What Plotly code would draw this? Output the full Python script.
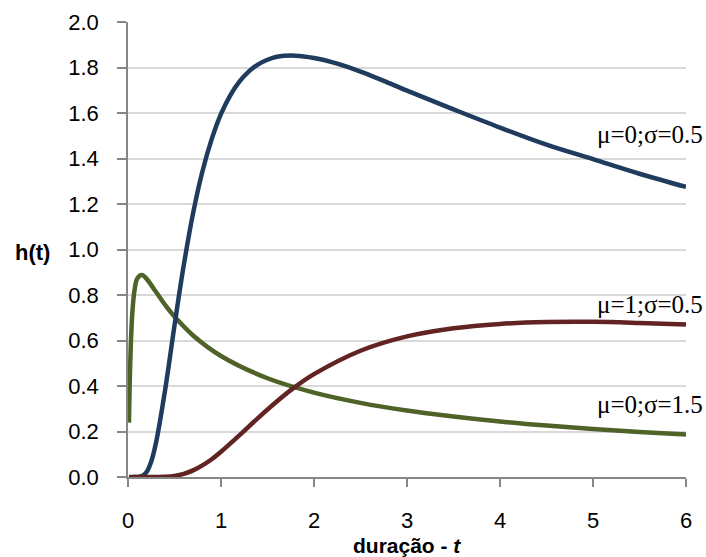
import plotly.graph_objects as go

# Series 1: mu=0; sigma=0.5
t1 = [0.05, 0.1, 0.15, 0.2, 0.25, 0.3, 0.4, 0.5, 0.6, 0.7, 0.8, 0.9, 1.0, 1.1, 1.2, 1.3, 1.4, 1.5, 1.6, 1.8, 2.0, 2.25, 2.5, 2.75, 3.0, 3.5, 4.0, 4.5, 5.0, 5.5, 6.0]
h1 = [0.0, 0.0002, 0.004, 0.022, 0.068, 0.148, 0.385, 0.666, 0.932, 1.160, 1.343, 1.485, 1.596, 1.678, 1.739, 1.783, 1.814, 1.834, 1.847, 1.852, 1.842, 1.817, 1.782, 1.741, 1.698, 1.616, 1.536, 1.461, 1.397, 1.333, 1.275]

# Series 2: mu=1; sigma=0.5
t2 = [0.01, 0.1, 0.2, 0.3, 0.4, 0.5, 0.6, 0.7, 0.8, 0.9, 1.0, 1.2, 1.4, 1.6, 1.8, 2.0, 2.5, 3.0, 3.5, 4.0, 4.5, 5.0, 5.5, 6.0]
h2 = [0.0, 0.0, 0.0, 0.0002, 0.0012, 0.005, 0.014, 0.029, 0.051, 0.078, 0.111, 0.184, 0.260, 0.332, 0.397, 0.452, 0.555, 0.618, 0.654, 0.673, 0.681, 0.682, 0.677, 0.670]

# Series 3: mu=0; sigma=1.5
t3 = [0.01, 0.02, 0.03, 0.04, 0.05, 0.07, 0.1, 0.15, 0.2, 0.3, 0.4, 0.5, 0.7, 1.0, 1.5, 2.0, 2.5, 3.0, 3.5, 4.0, 4.5, 5.0, 5.5, 6.0]
h3 = [0.239, 0.445, 0.582, 0.675, 0.741, 0.820, 0.873, 0.888, 0.871, 0.814, 0.756, 0.705, 0.622, 0.532, 0.434, 0.371, 0.326, 0.292, 0.266, 0.244, 0.226, 0.211, 0.198, 0.187]

labels = ["μ=0;σ=0.5", "μ=1;σ=0.5", "μ=0;σ=1.5"]
colors = ["#1F3B5E", "#622423", "#4F6228"]

x_ticks = [0, 1, 2, 3, 4, 5, 6]
y_ticks = [0.0, 0.2, 0.4, 0.6, 0.8, 1.0, 1.2, 1.4, 1.6, 1.8, 2.0]

fig = go.Figure()
for t, h, c in [(t3, h3, colors[2]), (t1, h1, colors[0]), (t2, h2, colors[1])]:
    fig.add_trace(go.Scatter(x=t, y=h, mode="lines",
                             line=dict(color=c, width=4.5, shape="spline", smoothing=1.0),
                             showlegend=False, hoverinfo="skip"))

label_pos = [0.7536, 0.380, 0.160]
for lab, ly in zip(labels, label_pos):
    fig.add_annotation(x=1.034, y=ly, xref="paper", yref="paper", text=lab, showarrow=False,
                       xanchor="right", yanchor="middle",
                       font=dict(family="Liberation Serif", size=25, color="#000000"))

fig.add_annotation(x=-0.172, y=0.4945, xref="paper", yref="paper", text="<b>h(t)</b>", showarrow=False,
                   xanchor="center", yanchor="middle",
                   font=dict(family="Liberation Sans", size=22, color="#000000"))
fig.add_annotation(x=0.5, y=-0.151, xref="paper", yref="paper", text="<b>duração - <i>t</i></b>", showarrow=False,
                   xanchor="center", yanchor="middle",
                   font=dict(family="Liberation Sans", size=21, color="#000000"))

fig.update_layout(
    width=706, height=557,
    margin=dict(l=128, r=20, t=22, b=80, autoexpand=False),
    plot_bgcolor="white", paper_bgcolor="white",
    font=dict(family="Liberation Sans", size=22, color="#000000"),
)
fig.update_xaxes(range=[0, 6], tickvals=x_ticks, ticktext=[str(v) for v in x_ticks],
                 showgrid=False, zeroline=False, showline=True, linecolor="#868686", linewidth=1.5,
                 ticks="outside", ticklen=8, tickcolor="#868686", tickwidth=1.5,
                 ticklabelstandoff=15)
fig.update_yaxes(range=[0, 2.0], tickvals=y_ticks, ticktext=[f"{v:.1f}" for v in y_ticks],
                 showgrid=True, gridcolor="#D9D9D9", gridwidth=1.5, zeroline=False,
                 showline=True, linecolor="#868686", linewidth=1.5,
                 ticks="outside", ticklen=9, tickcolor="#868686", tickwidth=1.5,
                 ticklabelstandoff=14)

fig.write_html("out.html", config={"displayModeBar": False},
               post_script="document.body.style.margin='0';document.body.style.padding='0';")
